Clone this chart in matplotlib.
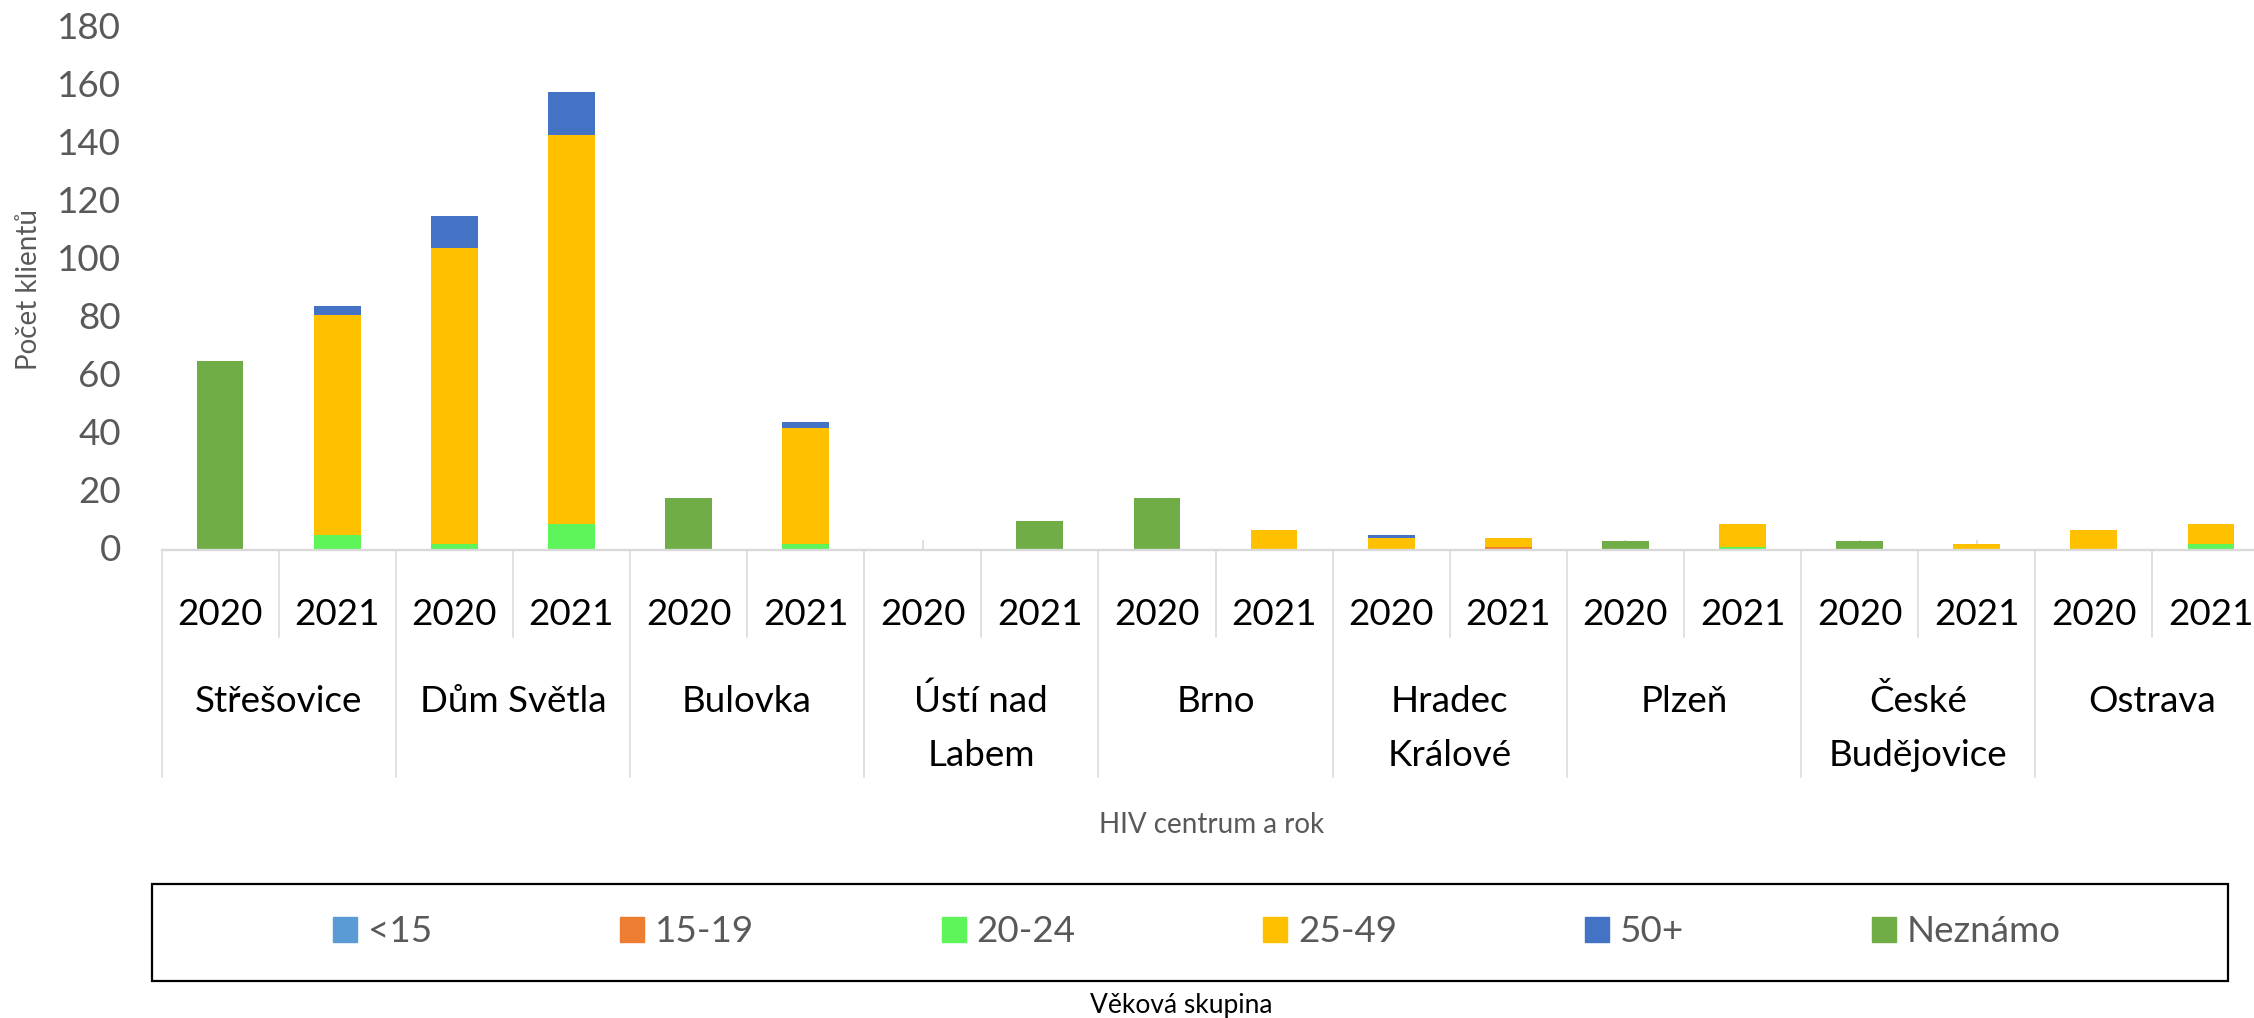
import matplotlib
matplotlib.use("Agg")
import matplotlib.pyplot as plt
from matplotlib.patches import Rectangle
from matplotlib.transforms import ScaledTranslation
import numpy as np

plt.rcParams['font.family'] = ['Lato', 'DejaVu Sans']

# data
centers = ['Střešovice', 'Dům Světla', 'Bulovka', 'Ústí nad\nLabem', 'Brno',
           'Hradec\nKrálové', 'Plzeň', 'České\nBudějovice', 'Ostrava']
years = ['2020', '2021']
age_groups = ['<15', '15-19', '20-24', '25-49', '50+', 'Neznámo']
colors = ['#5B9BD5', '#ED7D31', '#5DF55A', '#FFC000', '#4472C4', '#70AD47']

# one value per bar: centre1 2020, centre1 2021, centre2 2020, ...
under15 = [0, 0, 0, 0, 0, 0, 0, 0, 0, 0, 0, 0, 0, 0, 0, 0, 0, 0]
age15_19 = [0, 0, 0, 0, 0, 0, 0, 0, 0, 0, 0, 1, 0, 0, 0, 0, 0, 0]
age20_24 = [0, 5, 2, 9, 0, 2, 0, 0, 0, 0, 0, 0, 0, 1, 0, 0, 0, 2]
age25_49 = [0, 76, 102, 134, 0, 40, 0, 0, 0, 7, 4, 3, 0, 8, 0, 2, 7, 7]
age50 = [0, 3, 11, 15, 0, 2, 0, 0, 0, 0, 1, 0, 0, 0, 0, 0, 0, 0]
unknown = [65, 0, 0, 0, 18, 0, 0, 10, 18, 0, 0, 0, 3, 0, 3, 0, 0, 0]
yticks = [0, 20, 40, 60, 80, 100, 120, 140, 160, 180]

series = [under15, age15_19, age20_24, age25_49, age50, unknown]

W, H = 2254, 1018
fig = plt.figure(figsize=(W / 100, H / 100), dpi=100)

# plot area in pixels (the right end is cut off in the original)
left_px, right_px, top_px, base_px = 161.5, 2269.5, 27.7, 550.0
ax = fig.add_axes([left_px / W, 1 - base_px / H, (right_px - left_px) / W, (base_px - top_px) / H])
ax_h = base_px - top_px

n = len(centers) * len(years)
x = np.arange(n)
bottom = np.zeros(n)
for vals, col, lab in zip(series, colors, age_groups):
    vals = np.array(vals, dtype=float)
    ax.bar(x, vals, 0.4, bottom=bottom, color=col, label=lab, zorder=2)
    bottom += vals

ax.set_xlim(-0.5, n - 0.5)
ax.set_ylim(0, 180)
ax.set_yticks(yticks)
ax.tick_params(axis='y', length=0, pad=29, labelsize=26.5, labelcolor='#595959')
# nudge the y labels up a little, as in the original
up = ScaledTranslation(0, 2.5 / 100, fig.dpi_scale_trans)
for lbl in ax.get_yticklabels():
    lbl.set_transform(lbl.get_transform() + up)
ax.set_xticks(x)
ax.set_xticklabels([])
ax.tick_params(axis='x', direction='in', length=7, width=1.2, color='#D9D9D9')
for s in ['left', 'right', 'top']:
    ax.spines[s].set_visible(False)
ax.spines['bottom'].set_color('#D9D9D9')
ax.spines['bottom'].set_linewidth(1.7)

# category separators and labels below the axis
tr = ax.get_xaxis_transform()
for i in range(n + 1):
    xs = i - 0.5
    depth = 227 if i % 2 == 0 else 87
    ax.plot([xs, xs], [0, -depth / ax_h], color='#D9D9D9', lw=1.1,
            transform=tr, clip_on=False)

for i in range(n):
    ax.text(i, -(625 - base_px) / ax_h, years[i % 2], transform=tr, ha='center',
            va='baseline', fontsize=26.5, color='black')

for j, name in enumerate(centers):
    for k, line in enumerate(name.split('\n')):
        yb = 712 + 53.5 * k
        ax.text(2 * j + 0.5, -(yb - base_px) / ax_h, line, transform=tr, ha='center',
                va='baseline', fontsize=26.5, color='black')

fig.text(29 / W, 1 - 289 / H, 'Počet klientů', rotation=90, ha='center', va='center',
         fontsize=20, color='#595959')
fig.text(1212 / W, 1 - 833 / H, 'HIV centrum a rok', ha='center', va='baseline',
         fontsize=20, color='#595959')

# legend with its frame and title underneath
box_l, box_r, box_t, box_b = 151.5, 2228, 884, 980.5
fig.patches.append(Rectangle((box_l / W, 1 - box_b / H), (box_r - box_l) / W, (box_b - box_t) / H,
                             transform=fig.transFigure, fill=False, edgecolor='black', lw=1.6))
handles = [Rectangle((0, 0), 1, 1, color=c) for c in colors]
leg = fig.legend(handles, age_groups, ncol=6, loc='center',
                 bbox_to_anchor=(1197 / W, 1 - 932 / H), frameon=False,
                 fontsize=26.5, handlelength=0.65, handleheight=0.65,
                 handletextpad=0.3, columnspacing=5.1, borderpad=0)
for t in leg.get_texts():
    t.set_color('#595959')
fig.text(1181 / W, 1 - 1012.7 / H, 'Věková skupina', ha='center', va='baseline',
         fontsize=19, color='black')

fig.savefig('out.png', dpi=100)
